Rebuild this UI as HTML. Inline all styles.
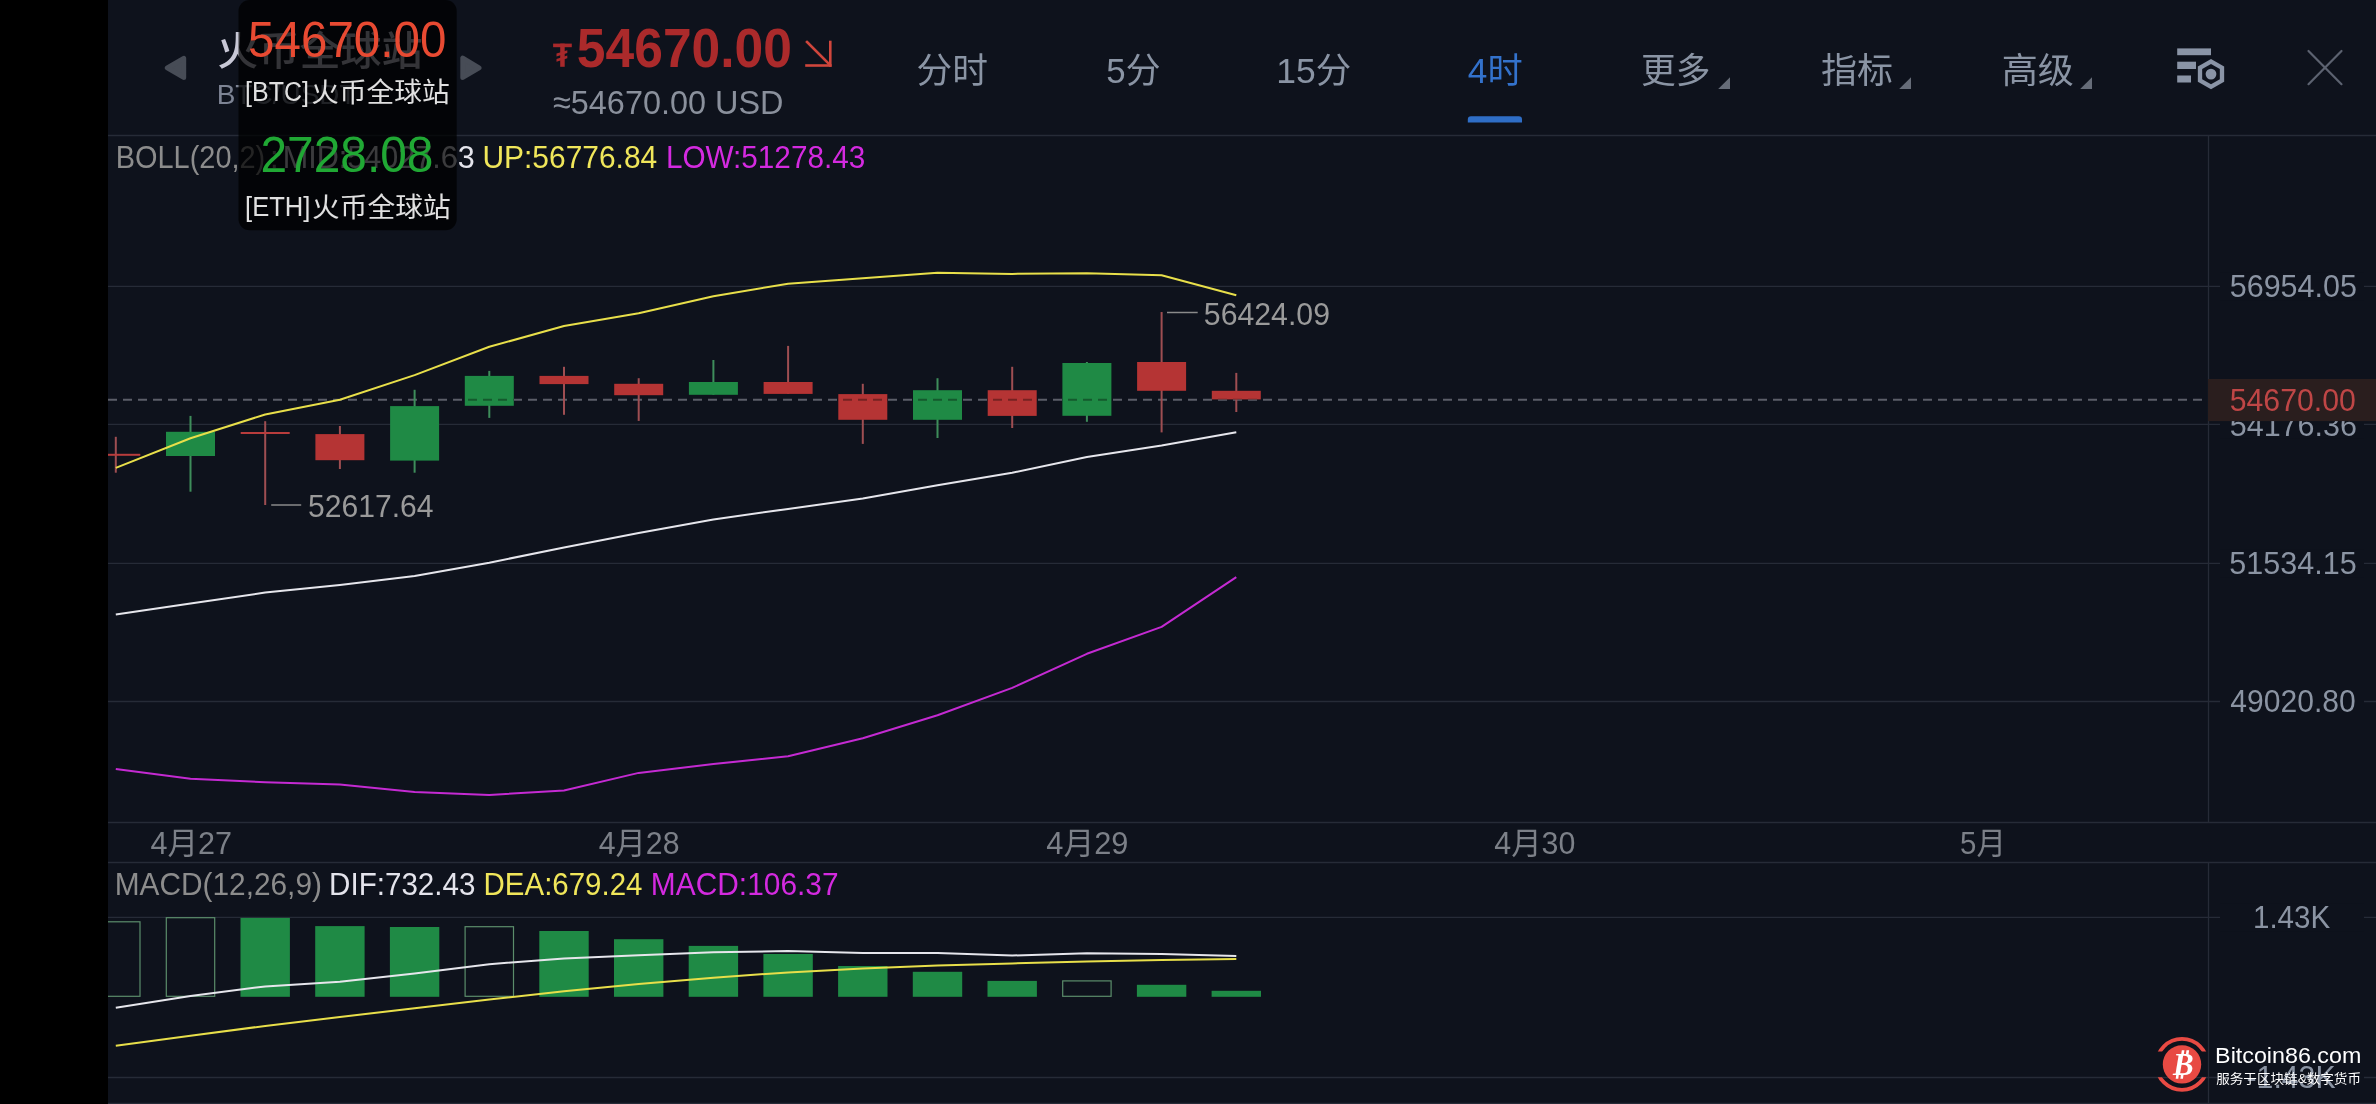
<!DOCTYPE html>
<html><head><meta charset="utf-8"><title>BTC/USDT 4H</title>
<style>html,body{margin:0;padding:0;background:#0e121c;overflow:hidden}svg{display:block;will-change:transform}</style></head>
<body><svg width="2376" height="1104" viewBox="0 0 2376 1104">
<rect x="0" y="0" width="2376" height="1104" fill="#0e121c"/>
<rect x="0" y="0" width="108" height="1104" fill="#000"/>
<line x1="108" y1="135.5" x2="2376" y2="135.5" stroke="#262b37" stroke-width="1.3"/>
<line x1="108" y1="822.5" x2="2376" y2="822.5" stroke="#262b37" stroke-width="1.3"/>
<line x1="108" y1="862.5" x2="2376" y2="862.5" stroke="#262b37" stroke-width="1.3"/>
<line x1="108" y1="1103.5" x2="2376" y2="1103.5" stroke="#262b37" stroke-width="1.3"/>
<line x1="108" y1="286.3" x2="2376" y2="286.3" stroke="#262b37" stroke-width="1.3"/>
<line x1="108" y1="424.3" x2="2376" y2="424.3" stroke="#262b37" stroke-width="1.3"/>
<line x1="108" y1="563.4" x2="2376" y2="563.4" stroke="#262b37" stroke-width="1.3"/>
<line x1="108" y1="701.5" x2="2376" y2="701.5" stroke="#262b37" stroke-width="1.3"/>
<line x1="108" y1="917.3" x2="2376" y2="917.3" stroke="#262b37" stroke-width="1.3"/>
<line x1="108" y1="1077.5" x2="2376" y2="1077.5" stroke="#262b37" stroke-width="1.3"/>
<line x1="2208.5" y1="135.5" x2="2208.5" y2="822.5" stroke="#262b37" stroke-width="1.3"/>
<line x1="2208.5" y1="862.5" x2="2208.5" y2="1104" stroke="#262b37" stroke-width="1.3"/>
<defs><clipPath id="chart"><rect x="108" y="136" width="2100" height="686"/></clipPath><clipPath id="macd"><rect x="108" y="863" width="2100" height="240"/></clipPath>
<clipPath id="bodies"><rect x="166.0" y="431.8" width="49" height="24.2"/><rect x="315.4" y="434.1" width="49" height="26.1"/><rect x="390.1" y="406.1" width="49" height="54.5"/><rect x="464.8" y="375.9" width="49" height="29.9"/><rect x="539.5" y="375.9" width="49" height="8.2"/><rect x="614.2" y="383.8" width="49" height="11.4"/><rect x="688.9" y="382.0" width="49" height="12.8"/><rect x="763.6" y="382.0" width="49" height="11.9"/><rect x="838.3" y="394.1" width="49" height="25.7"/><rect x="913.0" y="390.2" width="49" height="29.6"/><rect x="987.7" y="390.2" width="49" height="25.7"/><rect x="1062.4" y="363.0" width="49" height="52.8"/><rect x="1137.1" y="362.0" width="49" height="28.8"/><rect x="1211.8" y="390.8" width="49" height="8.6"/></clipPath></defs>
<g clip-path="url(#chart)">
<line x1="108" y1="399.7" x2="2203" y2="399.7" stroke="#5b5e68" stroke-width="2" stroke-dasharray="9 6"/>
<rect x="114.8" y="436.8" width="2" height="35.9" fill="#9e4e52"/>
<rect x="91.3" y="453.8" width="49" height="2.0" fill="#b83c3c"/>
<rect x="189.5" y="415.9" width="2" height="75.8" fill="#3e8d5b"/>
<rect x="166.0" y="431.8" width="49" height="24.2" fill="#1f8a45"/>
<rect x="264.2" y="421.2" width="2" height="83.8" fill="#9e4e52"/>
<rect x="240.7" y="432.0" width="49" height="2.0" fill="#b83c3c"/>
<rect x="338.9" y="426.0" width="2" height="43.0" fill="#9e4e52"/>
<rect x="315.4" y="434.1" width="49" height="26.1" fill="#b53434"/>
<rect x="413.6" y="389.8" width="2" height="82.9" fill="#3e8d5b"/>
<rect x="390.1" y="406.1" width="49" height="54.5" fill="#1f8a45"/>
<rect x="488.3" y="370.9" width="2" height="47.0" fill="#3e8d5b"/>
<rect x="464.8" y="375.9" width="49" height="29.9" fill="#1f8a45"/>
<rect x="563.0" y="366.8" width="2" height="48.0" fill="#9e4e52"/>
<rect x="539.5" y="375.9" width="49" height="8.2" fill="#b53434"/>
<rect x="637.7" y="378.2" width="2" height="42.7" fill="#9e4e52"/>
<rect x="614.2" y="383.8" width="49" height="11.4" fill="#b53434"/>
<rect x="712.4" y="360.0" width="2" height="34.8" fill="#3e8d5b"/>
<rect x="688.9" y="382.0" width="49" height="12.8" fill="#1f8a45"/>
<rect x="787.1" y="345.9" width="2" height="48.0" fill="#9e4e52"/>
<rect x="763.6" y="382.0" width="49" height="11.9" fill="#b53434"/>
<rect x="861.8" y="383.8" width="2" height="60.1" fill="#9e4e52"/>
<rect x="838.3" y="394.1" width="49" height="25.7" fill="#b53434"/>
<rect x="936.5" y="378.2" width="2" height="59.8" fill="#3e8d5b"/>
<rect x="913.0" y="390.2" width="49" height="29.6" fill="#1f8a45"/>
<rect x="1011.2" y="366.8" width="2" height="61.2" fill="#9e4e52"/>
<rect x="987.7" y="390.2" width="49" height="25.7" fill="#b53434"/>
<rect x="1085.9" y="362.0" width="2" height="59.8" fill="#3e8d5b"/>
<rect x="1062.4" y="363.0" width="49" height="52.8" fill="#1f8a45"/>
<rect x="1160.6" y="312.0" width="2" height="120.4" fill="#9e4e52"/>
<rect x="1137.1" y="362.0" width="49" height="28.8" fill="#b53434"/>
<rect x="1235.3" y="372.9" width="2" height="39.1" fill="#9e4e52"/>
<rect x="1211.8" y="390.8" width="49" height="8.6" fill="#b53434"/>
<line x1="108" y1="399.7" x2="2203" y2="399.7" stroke="#000" stroke-opacity="0.35" stroke-width="2" stroke-dasharray="9 6" clip-path="url(#bodies)"/>
<polyline points="115.8,467.9 190.5,438.2 265.2,414.5 339.9,399.8 414.6,375.1 489.3,346.8 564.0,326.0 638.7,313.3 713.4,296.3 788.1,283.7 862.8,278.2 937.5,272.8 1012.2,273.9 1086.9,273.2 1161.6,275.3 1236.3,295.2" fill="none" stroke="#e8df4a" stroke-width="2.0" stroke-linejoin="round"/>
<polyline points="115.8,614.5 190.5,603.5 265.2,592.6 339.9,584.9 414.6,576.1 489.3,562.7 564.0,547.5 638.7,533.0 713.4,519.4 788.1,508.9 862.8,498.6 937.5,485.3 1012.2,472.8 1086.9,457.0 1161.6,445.6 1236.3,432.2" fill="none" stroke="#e6e6ec" stroke-width="2.0" stroke-linejoin="round"/>
<polyline points="115.8,769.0 190.5,778.8 265.2,782.2 339.9,784.6 414.6,792.0 489.3,794.9 564.0,790.5 638.7,772.9 713.4,764.1 788.1,756.3 862.8,738.2 937.5,715.3 1012.2,687.9 1086.9,653.8 1161.6,626.9 1236.3,577.1" fill="none" stroke="#c42ad2" stroke-width="2.0" stroke-linejoin="round"/>
<line x1="1167" y1="312.5" x2="1197.7" y2="312.5" stroke="#8a8a8a" stroke-width="1.5"/>
<line x1="271.2" y1="505" x2="301.2" y2="505" stroke="#8a8a8a" stroke-width="1.5"/>
</g>
<g clip-path="url(#macd)">
<rect x="91.6" y="921.8" width="48.4" height="74.5" fill="none" stroke="#5b8d6b" stroke-width="1.2"/>
<rect x="166.3" y="917.7" width="48.4" height="78.6" fill="none" stroke="#5b8d6b" stroke-width="1.2"/>
<rect x="240.5" y="917.9" width="49.4" height="78.9" fill="#1f8a45"/>
<rect x="315.2" y="926.1" width="49.4" height="70.7" fill="#1f8a45"/>
<rect x="389.9" y="927.0" width="49.4" height="69.8" fill="#1f8a45"/>
<rect x="465.1" y="926.7" width="48.4" height="69.6" fill="none" stroke="#5b8d6b" stroke-width="1.2"/>
<rect x="539.3" y="931.0" width="49.4" height="65.8" fill="#1f8a45"/>
<rect x="614.0" y="939.2" width="49.4" height="57.6" fill="#1f8a45"/>
<rect x="688.7" y="945.9" width="49.4" height="50.9" fill="#1f8a45"/>
<rect x="763.4" y="954.0" width="49.4" height="42.8" fill="#1f8a45"/>
<rect x="838.1" y="966.0" width="49.4" height="30.8" fill="#1f8a45"/>
<rect x="912.8" y="971.8" width="49.4" height="25.0" fill="#1f8a45"/>
<rect x="987.5" y="980.9" width="49.4" height="15.9" fill="#1f8a45"/>
<rect x="1062.7" y="980.9" width="48.4" height="15.4" fill="none" stroke="#5b8d6b" stroke-width="1.2"/>
<rect x="1136.9" y="984.8" width="49.4" height="12.0" fill="#1f8a45"/>
<rect x="1211.6" y="990.8" width="49.4" height="6.0" fill="#1f8a45"/>
<polyline points="115.8,1007.7 190.5,996.0 265.2,986.4 339.9,981.7 414.6,973.4 489.3,964.2 564.0,958.4 638.7,955.3 713.4,952.3 788.1,951.0 862.8,953.1 937.5,952.9 1012.2,955.5 1086.9,953.2 1161.6,953.9 1236.3,956.1" fill="none" stroke="#e6e6ec" stroke-width="2.0" stroke-linejoin="round"/>
<polyline points="115.8,1045.7 190.5,1035.8 265.2,1025.9 339.9,1017.0 414.6,1008.3 489.3,999.5 564.0,991.3 638.7,984.1 713.4,977.7 788.1,972.4 862.8,968.5 937.5,965.4 1012.2,963.4 1086.9,961.4 1161.6,959.9 1236.3,959.1" fill="none" stroke="#e8df4a" stroke-width="2.0" stroke-linejoin="round"/>
</g>
<rect x="2220" y="272.3" width="144" height="28" fill="#0e121c"/>
<rect x="2220" y="410.3" width="144" height="28" fill="#0e121c"/>
<rect x="2220" y="549.4" width="144" height="28" fill="#0e121c"/>
<rect x="2220" y="687.5" width="144" height="28" fill="#0e121c"/>
<rect x="2220" y="903.3" width="144" height="28" fill="#0e121c"/>
<rect x="2220" y="1063.5" width="144" height="28" fill="#0e121c"/>
<text x="115.73" y="168.20" font-size="31" font-family="'Liberation Sans', 'Noto Sans CJK SC', sans-serif" fill="#8c8c8c" textLength="149.50" lengthAdjust="spacingAndGlyphs">BOLL(20,2)</text>
<text x="270.00" y="168.20" font-size="31" font-family="'Liberation Sans', 'Noto Sans CJK SC', sans-serif" fill="#8c8c8c">:</text>
<text x="282.83" y="168.20" font-size="31" font-family="'Liberation Sans', 'Noto Sans CJK SC', sans-serif" fill="#e4e4ec" textLength="191.79" lengthAdjust="spacingAndGlyphs">MID:54027.63</text>
<text x="217.17" y="64.80" font-size="40" font-weight="500" font-family="'Liberation Sans', 'Noto Sans CJK SC', sans-serif" fill="#c8c8d6" textLength="205.56" lengthAdjust="spacingAndGlyphs"><tspan font-family="'Liberation Sans', 'Noto Sans CJK TC', sans-serif">火</tspan>币全球站</text>
<text x="216.70" y="104.40" font-size="28" font-family="'Liberation Sans', 'Noto Sans CJK SC', sans-serif" fill="#7d8494">BTC/USDT</text>
<text x="2229.72" y="297.00" font-size="31" font-family="'Liberation Sans', 'Noto Sans CJK SC', sans-serif" fill="#8b94a3" textLength="127.20" lengthAdjust="spacingAndGlyphs">56954.05</text>
<text x="2229.72" y="435.70" font-size="31" font-family="'Liberation Sans', 'Noto Sans CJK SC', sans-serif" fill="#8b94a3" textLength="127.20" lengthAdjust="spacingAndGlyphs">54176.36</text>
<text x="2229.31" y="574.20" font-size="31" font-family="'Liberation Sans', 'Noto Sans CJK SC', sans-serif" fill="#8b94a3" textLength="127.41" lengthAdjust="spacingAndGlyphs">51534.15</text>
<text x="2230.30" y="712.30" font-size="31" font-family="'Liberation Sans', 'Noto Sans CJK SC', sans-serif" fill="#8b94a3" textLength="125.43" lengthAdjust="spacingAndGlyphs">49020.80</text>
<text x="2252.99" y="928.10" font-size="31" font-family="'Liberation Sans', 'Noto Sans CJK SC', sans-serif" fill="#8b94a3" textLength="77.20" lengthAdjust="spacingAndGlyphs">1.43K</text>
<text x="2246.52" y="1088.00" font-size="31" font-family="'Liberation Sans', 'Noto Sans CJK SC', sans-serif" fill="#8b94a3" textLength="89.06" lengthAdjust="spacingAndGlyphs">-1.43K</text>
<text x="1203.82" y="324.50" font-size="31" font-family="'Liberation Sans', 'Noto Sans CJK SC', sans-serif" fill="#9a9a9a" textLength="126.19" lengthAdjust="spacingAndGlyphs">56424.09</text>
<text x="308.03" y="517.40" font-size="31" font-family="'Liberation Sans', 'Noto Sans CJK SC', sans-serif" fill="#9a9a9a" textLength="125.50" lengthAdjust="spacingAndGlyphs">52617.64</text>
<text x="150.50" y="853.60" font-size="31" font-family="'Liberation Sans', 'Noto Sans CJK SC', sans-serif" fill="#7c8088" textLength="81.52" lengthAdjust="spacingAndGlyphs">4月27</text>
<text x="598.70" y="853.60" font-size="31" font-family="'Liberation Sans', 'Noto Sans CJK SC', sans-serif" fill="#7c8088" textLength="80.81" lengthAdjust="spacingAndGlyphs">4月28</text>
<text x="1046.30" y="853.60" font-size="31" font-family="'Liberation Sans', 'Noto Sans CJK SC', sans-serif" fill="#7c8088" textLength="82.13" lengthAdjust="spacingAndGlyphs">4月29</text>
<text x="1494.30" y="853.60" font-size="31" font-family="'Liberation Sans', 'Noto Sans CJK SC', sans-serif" fill="#7c8088" textLength="81.04" lengthAdjust="spacingAndGlyphs">4月30</text>
<text x="1960.05" y="853.60" font-size="31" font-family="'Liberation Sans', 'Noto Sans CJK SC', sans-serif" fill="#7c8088" textLength="45.80" lengthAdjust="spacingAndGlyphs">5月</text>
<text x="482.47" y="168.20" font-size="31" font-family="'Liberation Sans', 'Noto Sans CJK SC', sans-serif" fill="#f0e65a" textLength="174.76" lengthAdjust="spacingAndGlyphs">UP:56776.84</text>
<text x="665.88" y="168.20" font-size="31" font-family="'Liberation Sans', 'Noto Sans CJK SC', sans-serif" fill="#d42ae0" textLength="199.41" lengthAdjust="spacingAndGlyphs">LOW:51278.43</text>
<text x="114.67" y="894.60" font-size="31" font-family="'Liberation Sans', 'Noto Sans CJK SC', sans-serif" fill="#8c8c8c" textLength="207.30" lengthAdjust="spacingAndGlyphs">MACD(12,26,9)</text>
<text x="329.09" y="894.60" font-size="31" font-family="'Liberation Sans', 'Noto Sans CJK SC', sans-serif" fill="#e4e4ec" textLength="146.39" lengthAdjust="spacingAndGlyphs">DIF:732.43</text>
<text x="483.60" y="894.60" font-size="31" font-family="'Liberation Sans', 'Noto Sans CJK SC', sans-serif" fill="#f0e65a" textLength="158.83" lengthAdjust="spacingAndGlyphs">DEA:679.24</text>
<text x="650.87" y="894.60" font-size="31" font-family="'Liberation Sans', 'Noto Sans CJK SC', sans-serif" fill="#d42ae0" textLength="187.72" lengthAdjust="spacingAndGlyphs">MACD:106.37</text>
<text x="576.86" y="67.00" font-size="55" font-weight="bold" font-family="'Liberation Sans', 'Noto Sans CJK SC', sans-serif" fill="#ab2a2b" textLength="215.13" lengthAdjust="spacingAndGlyphs">54670.00</text>
<text x="553.00" y="114.40" font-size="34" font-family="'Liberation Sans', 'Noto Sans CJK SC', sans-serif" fill="#8a909c" textLength="230.48" lengthAdjust="spacingAndGlyphs">≈54670.00 USD</text>
<text x="916.48" y="82.70" font-size="35" font-family="'Liberation Sans', 'Noto Sans CJK SC', sans-serif" fill="#8a94a4" textLength="71.44" lengthAdjust="spacingAndGlyphs">分时</text>
<text x="1106.31" y="82.70" font-size="35" font-family="'Liberation Sans', 'Noto Sans CJK SC', sans-serif" fill="#8a94a4" textLength="54.19" lengthAdjust="spacingAndGlyphs">5分</text>
<text x="1276.37" y="82.70" font-size="35" font-family="'Liberation Sans', 'Noto Sans CJK SC', sans-serif" fill="#8a94a4" textLength="74.94" lengthAdjust="spacingAndGlyphs">15分</text>
<text x="1467.80" y="82.70" font-size="35" font-family="'Liberation Sans', 'Noto Sans CJK SC', sans-serif" fill="#3372cc" textLength="54.81" lengthAdjust="spacingAndGlyphs">4时</text>
<text x="1641.01" y="82.70" font-size="35" font-family="'Liberation Sans', 'Noto Sans CJK SC', sans-serif" fill="#8a94a4" textLength="69.38" lengthAdjust="spacingAndGlyphs">更多</text>
<text x="1820.97" y="82.70" font-size="35" font-family="'Liberation Sans', 'Noto Sans CJK SC', sans-serif" fill="#8a94a4" textLength="72.06" lengthAdjust="spacingAndGlyphs">指标</text>
<text x="2001.74" y="82.70" font-size="35" font-family="'Liberation Sans', 'Noto Sans CJK SC', sans-serif" fill="#8a94a4" textLength="72.19" lengthAdjust="spacingAndGlyphs">高级</text>
<path d="M183.7,58.3 L183.7,77.4 L167.3,67.85 Z" fill="#474c56" stroke="#474c56" stroke-width="5" stroke-linejoin="round"/>
<path d="M462.8,58.1 L462.8,77.4 L479,67.8 Z" fill="#474c56" stroke="#474c56" stroke-width="5" stroke-linejoin="round"/>
<g fill="#a8292b"><rect x="553.1" y="43.6" width="18.7" height="3.6"/><rect x="560.2" y="43.6" width="4.5" height="23.2"/><polygon points="556.5,53.4 567.3,50.2 567.3,53.1 556.5,56.6"/><polygon points="556.5,58.9 567.3,55.4 567.3,58.3 556.5,61.8"/></g>
<g stroke="#d0463c" stroke-width="2.6" fill="none" stroke-linecap="square"><line x1="807" y1="42" x2="829.5" y2="64.5"/><line x1="830.3" y1="42" x2="830.3" y2="65.5"/><line x1="806.5" y1="65.5" x2="830.3" y2="65.5"/></g>
<path d="M1467.8,122.6 L1467.8,119.5 Q1467.8,116.3 1471,116.3 L1518.8,116.3 Q1522,116.3 1522,119.5 L1522,122.6 Z" fill="#2f6ec6"/>
<path d="M1730,77.3 L1730,89 L1718.2,89 Z" fill="#666c78"/>
<path d="M1911,77.3 L1911,89 L1899.2,89 Z" fill="#666c78"/>
<path d="M2092,77.3 L2092,89 L2080.2,89 Z" fill="#666c78"/>
<g fill="#8a94a6"><rect x="2177.2" y="48.4" width="33.8" height="6.8"/><rect x="2177.2" y="61.7" width="18.8" height="7.3"/><rect x="2177.2" y="75.5" width="13.8" height="7"/></g>
<polygon points="2211.00,58.90 2224.16,66.50 2224.16,81.70 2211.00,89.30 2197.84,81.70 2197.84,66.50" fill="#8a94a6"/><polygon points="2211.00,63.90 2219.83,69.00 2219.83,79.20 2211.00,84.30 2202.17,79.20 2202.17,69.00" fill="#0e121c"/><circle cx="2211" cy="74.1" r="5.4" fill="#8a94a6"/>
<g stroke="#5c6270" stroke-width="2.2" stroke-linecap="round"><line x1="2308.5" y1="51" x2="2341.5" y2="84.2"/><line x1="2341.5" y1="51" x2="2308.5" y2="84.2"/></g>
<rect x="2208" y="379" width="168" height="42.1" fill="#2a1e1e"/>
<text x="2229.72" y="411.4" font-size="31" font-family="'Liberation Sans', 'Noto Sans CJK SC', sans-serif" fill="#bf4646" textLength="126.21" lengthAdjust="spacingAndGlyphs">54670.00</text>
<rect x="238.5" y="0" width="218.2" height="230.3" rx="11" fill="#000" fill-opacity="0.74"/>
<text x="248.10" y="57.30" font-size="50" font-family="'Liberation Sans', 'Noto Sans CJK SC', sans-serif" fill="#e84a32" textLength="198.22" lengthAdjust="spacingAndGlyphs">54670.00</text>
<text x="245.07" y="100.90" font-size="27" font-family="'Liberation Sans', 'Noto Sans CJK SC', sans-serif" fill="#e0e0e0" textLength="63.92" lengthAdjust="spacingAndGlyphs">[BTC]</text>
<text x="311.17" y="101.60" font-size="27" font-family="'Liberation Sans', 'Noto Sans CJK SC', sans-serif" fill="#e0e0e0" textLength="138.65" lengthAdjust="spacingAndGlyphs"><tspan font-family="'Liberation Sans', 'Noto Sans CJK TC', sans-serif">火</tspan>币全球站</text>
<text x="260.47" y="172.20" font-size="49.5" font-family="'Liberation Sans', 'Noto Sans CJK SC', sans-serif" fill="#20a834" textLength="173.01" lengthAdjust="spacingAndGlyphs">2728.08</text>
<text x="245.05" y="215.80" font-size="27" font-family="'Liberation Sans', 'Noto Sans CJK SC', sans-serif" fill="#e0e0e0" textLength="65.37" lengthAdjust="spacingAndGlyphs">[ETH]</text>
<text x="312.07" y="216.60" font-size="27" font-family="'Liberation Sans', 'Noto Sans CJK SC', sans-serif" fill="#e0e0e0" textLength="138.65" lengthAdjust="spacingAndGlyphs"><tspan font-family="'Liberation Sans', 'Noto Sans CJK TC', sans-serif">火</tspan>币全球站</text>
<defs><clipPath id="wmring"><rect x="2150" y="1030" width="70" height="21.6"/><rect x="2150" y="1077.2" width="70" height="30"/></clipPath></defs>
<circle cx="2182" cy="1064.4" r="25.5" fill="none" stroke="#e84a43" stroke-width="3.8" clip-path="url(#wmring)"/>
<circle cx="2182" cy="1064.4" r="19.2" fill="#e84a43"/>
<g fill="#fff"><polygon points="2181.2,1054.5 2183.8,1054.5 2184.4,1050.3 2181.8,1050.3"/><polygon points="2185.9,1054.5 2188.5,1054.5 2189.1,1050.3 2186.5,1050.3"/><polygon points="2176.3,1074 2178.9,1074 2178.3,1078.8 2175.7,1078.8"/><polygon points="2181,1074 2183.6,1074 2183,1078.8 2180.4,1078.8"/></g>
<text x="2173" y="1074.6" font-size="31" font-weight="bold" font-style="italic" font-family="'Liberation Serif', serif" fill="#fff">B</text>
<text x="2215.14" y="1062.70" font-size="22" font-family="'Liberation Sans', 'Noto Sans CJK SC', sans-serif" fill="#ffffff" textLength="146.16" lengthAdjust="spacingAndGlyphs">Bitcoin86.com</text>
<text x="2216.20" y="1082.50" font-size="13" font-family="'Liberation Sans', 'Noto Sans CJK SC', sans-serif" fill="#ffffff" textLength="144.84" lengthAdjust="spacingAndGlyphs">服务于区块链&amp;数字货币</text>
</svg></body></html>
